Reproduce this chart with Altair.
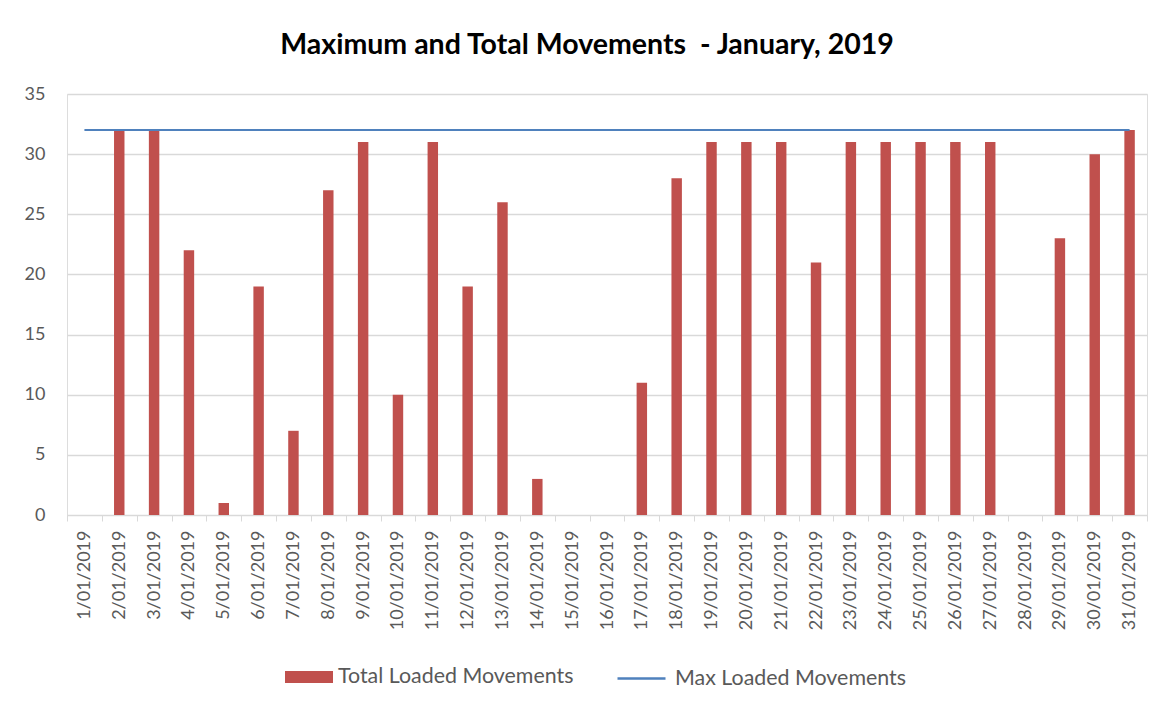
import altair as alt
import pandas as pd

days = ["1/01/2019", "2/01/2019", "3/01/2019", "4/01/2019", "5/01/2019", "6/01/2019",
        "7/01/2019", "8/01/2019", "9/01/2019", "10/01/2019", "11/01/2019", "12/01/2019",
        "13/01/2019", "14/01/2019", "15/01/2019", "16/01/2019", "17/01/2019", "18/01/2019",
        "19/01/2019", "20/01/2019", "21/01/2019", "22/01/2019", "23/01/2019", "24/01/2019",
        "25/01/2019", "26/01/2019", "27/01/2019", "28/01/2019", "29/01/2019", "30/01/2019",
        "31/01/2019"]
total_loaded = [0, 32, 32, 22, 1, 19, 7, 27, 31, 10, 31, 19, 26, 3, 0, 0, 11, 28,
                31, 31, 31, 21, 31, 31, 31, 31, 31, 0, 23, 30, 32]
max_loaded = [32, 32, 32, 32, 32, 32, 32, 32, 32, 32, 32, 32, 32, 32, 32, 32, 32, 32,
              32, 32, 32, 32, 32, 32, 32, 32, 32, 32, 32, 32, 32]

df = pd.DataFrame({
    "day": days,
    "total": total_loaded,
    "max": max_loaded,
    "s1": ["Total Loaded Movements"] * len(days),
    "s2": ["Max Loaded Movements"] * len(days),
})

FONT = "Lato"
GREY = "#595959"
GRID = "#D9D9D9"

x_enc = alt.X("day:N", sort=days, title=None,
              scale=alt.Scale(paddingInner=0, paddingOuter=0),
              axis=alt.Axis(labelAngle=270, labelFontSize=18, labelColor=GREY, labelFont=FONT,
                            labelPadding=9, tickSize=6, tickColor=GRID, domainColor=GRID,
                            tickBand="extent", grid=False, labelOverlap=False))

bars = alt.Chart(df).mark_bar(width=alt.RelativeBandSize(0.3)).encode(
    x=x_enc,
    y=alt.Y("total:Q", title=None,
            scale=alt.Scale(domain=[0, 35], nice=False),
            axis=alt.Axis(values=[0, 5, 10, 15, 20, 25, 30, 35], labelFontSize=18,
                          labelColor=GREY, labelFont=FONT, ticks=False, domain=False,
                          gridColor=GRID, gridWidth=1.3, labelPadding=22)),
    color=alt.Color("s1:N", title=None,
                    scale=alt.Scale(domain=["Total Loaded Movements"], range=["#C0504D"]),
                    legend=alt.Legend(orient="none", legendX=218, legendY=559,
                                      symbolType="M-1,-0.25H1V0.25H-1Z", symbolSize=2304,
                                      symbolStrokeWidth=0, symbolOpacity=1,
                                      labelFontSize=21.4, labelColor=GREY, labelFont=FONT,
                                      labelOffset=5, labelLimit=0, padding=0)),
)

line = alt.Chart(df).mark_line(strokeWidth=2).encode(
    x=alt.X("day:N", sort=days, bandPosition=0.5),
    y=alt.Y("max:Q"),
    stroke=alt.Stroke("s2:N", title=None,
                      scale=alt.Scale(domain=["Max Loaded Movements"], range=["#4F81BD"]),
                      legend=alt.Legend(orient="none", legendX=549, legendY=559,
                                        symbolType="stroke", symbolSize=2304,
                                        symbolStrokeWidth=2.5,
                                        labelFontSize=21.4, labelColor=GREY, labelFont=FONT,
                                        labelOffset=8, labelLimit=0, padding=0)),
)

chart = alt.layer(bars, line).properties(
    width=1080,
    height=421,
    autosize=alt.AutoSizeParams(type="none"),
    padding={"left": 59, "top": 86, "right": 9, "bottom": 186},
    title=alt.Title("Maximum and Total Movements\u00a0 - January, 2019", font=FONT,
                    fontSize=28.5, fontWeight="bold", color="#000000",
                    anchor="middle", offset=26, dx=-20),
).resolve_scale(color="independent").configure_view(stroke=None).configure(
    background="white"
)

chart.save("out.html", embed_options={"renderer": "svg", "actions": False})
